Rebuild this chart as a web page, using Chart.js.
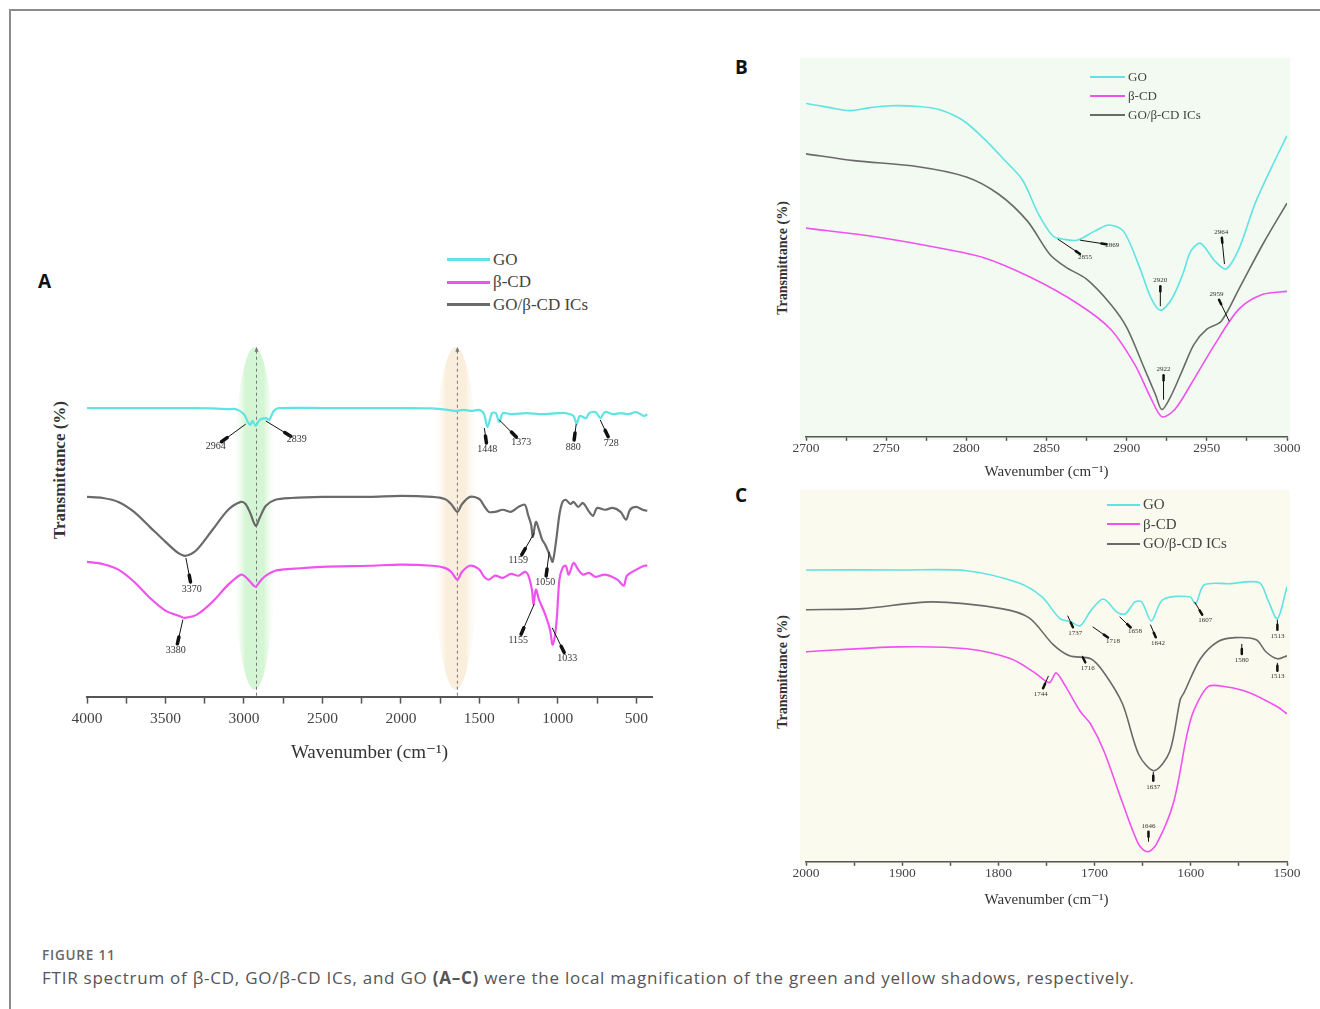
<!DOCTYPE html>
<html lang="en">
<head>
<meta charset="UTF-8" />
<title>FTIR spectrum - Figure 11</title>
<script src="https://cdn.jsdelivr.net/npm/chart.js"></script>
<style>
  body { margin: 0; width: 1320px; height: 1009px; position: relative; overflow: hidden; background: #fff; }
  .frame { position: absolute; left: 9px; top: 9px; width: 1330px; height: 1020px; border-top: 2px solid #8c8c8c; border-left: 2px solid #8c8c8c; }
  canvas { position: absolute; }
  .tag { position: absolute; font: bold 19px "Open Sans", sans-serif; color: #111; }
  .ytitle { position: absolute; transform: translate(-50%, -50%) rotate(-90deg); white-space: nowrap; font-family: "Liberation Serif", serif; font-weight: bold; color: #333; }
  .leg { position: absolute; display: flex; align-items: center; font-family: "Liberation Serif", serif; color: #444; white-space: nowrap; }
  .leg i { display: inline-block; margin-right: 3px; }
  .fig { position: absolute; left: 42px; top: 946px; font: 600 13.5px "Open Sans", sans-serif; color: #666; letter-spacing: 0.8px; }
  .cap { position: absolute; left: 42px; top: 966px; font: 17px "Open Sans", sans-serif; color: #555; white-space: nowrap; letter-spacing: 0.75px; }
</style>
</head>
<body>
<div class="frame"></div>

<div class="tag" style="left:38px;top:268px">A</div>
<div class="tag" style="left:735px;top:54px">B</div>
<div class="tag" style="left:735px;top:482px">C</div>

<div class="ytitle" style="left:60px;top:470px;font-size:17px">Transmittance (%)</div>
<div class="ytitle" style="left:783px;top:258px;font-size:14px">Transmittance (%)</div>
<div class="ytitle" style="left:783px;top:672px;font-size:14px">Transmittance (%)</div>

<canvas id="chartA" width="640" height="460" style="left:40px;top:330px"></canvas>
<canvas id="chartB" width="560" height="460" style="left:760px;top:40px"></canvas>
<canvas id="chartC" width="560" height="460" style="left:760px;top:470px"></canvas>

<div id="legends"></div>

<div class="fig">FIGURE 11</div>
<div class="cap">FTIR spectrum of β-CD, GO/β-CD ICs, and GO <b>(A–C)</b> were the local magnification of the green and yellow shadows, respectively.</div>

<script>
// series names and colours
const seriesNames = ["GO", "β-CD", "GO/β-CD ICs"];
const seriesColors = ["#5fe3e3", "#f052f0", "#6a6a6a"];

// ---- panel A: full spectrum, 4000-400 cm-1 ----
const goA_wn = [4000,3500,3200,3100,3050,3000,2975,2960,2945,2925,2900,2860,2839,2810,2780,2500,2000,1800,1700,1650,1600,1550,1500,1470,1448,1420,1395,1373,1350,1300,1200,1100,1000,950,900,880,860,820,800,760,728,700,650,600,550,500,450,430];
const goA_t = [80.9,80.9,80.8,80.6,80.6,79.2,77.0,76.2,77.3,75.9,77.6,78.1,77.6,80.1,80.9,80.9,80.9,80.8,80.4,80.1,80.4,80.1,80.4,79.2,75.6,79.5,79.5,77.0,79.5,79.2,79.5,79.2,79.5,79.5,78.7,76.4,78.7,78.1,79.5,79.8,78.1,79.8,79.2,79.5,79.2,79.8,78.7,79.2];

const cdA_wn = [4000,3900,3800,3700,3600,3500,3400,3380,3300,3200,3100,3020,2990,2960,2925,2900,2860,2800,2700,2500,2200,2000,1800,1720,1680,1640,1610,1560,1500,1470,1440,1400,1350,1300,1250,1210,1190,1165,1155,1140,1120,1080,1050,1033,1010,990,970,950,930,900,870,840,800,760,700,620,580,560,500,450,430];
const cdA_t = [37.8,37.2,35.6,32.2,27.7,24.1,22.4,22.1,23.0,26.6,31.4,34.2,33.6,32.2,30.8,32.2,33.9,35.3,35.8,36.4,36.7,37.0,36.7,36.1,35.0,32.8,35.0,36.7,35.6,33.6,32.8,33.9,33.3,34.4,33.9,35.0,34.2,30.0,25.8,30.0,27.2,23.0,18.8,14.6,20.2,32.8,36.1,36.7,34.2,37.5,35.6,34.2,34.7,33.6,34.2,32.8,31.1,33.9,35.6,36.7,36.7];

const icA_wn = [4000,3900,3800,3700,3600,3500,3420,3370,3300,3200,3100,3020,2990,2960,2925,2900,2860,2800,2700,2500,2200,2000,1800,1720,1680,1640,1610,1560,1500,1470,1440,1400,1350,1300,1250,1210,1190,1170,1159,1140,1120,1100,1080,1050,1033,1010,990,970,950,920,900,870,840,800,775,750,700,650,600,565,540,500,460,430];
const icA_t = [56.0,55.7,54.6,51.8,47.6,43.4,40.3,39.5,41.2,46.8,52.4,54.6,54.0,51.5,47.9,50.1,53.5,55.2,55.7,56.0,56.0,56.3,56.0,55.4,54.0,51.8,54.0,56.0,55.4,53.5,51.8,51.8,52.4,51.8,53.2,53.8,51.0,48.2,44.8,49.0,46.8,44.0,42.6,39.5,37.8,44.0,51.0,54.6,55.2,54.0,54.6,53.2,54.3,51.8,50.7,52.9,52.4,52.9,51.8,49.6,52.4,53.2,52.4,52.1];

const ticksA = [4000,3750,3500,3250,3000,2750,2500,2250,2000,1750,1500,1250,1000,750,500];
const tickLabelsA = [4000,3500,3000,2500,2000,1500,1000,500];
// shaded regions (cm-1) and their marker lines
const shadeA = [[3075, 2790, "rgba(160,235,160,0.45)"], [1800, 1500, "rgba(245,222,185,0.5)"]];
const markA = [2920, 1640];
// [label, tip wn, tip T, label wn, label T]
const peaksA = [
  ["2964", 2989, 76.4, 3179, 70.3], ["2839", 2861, 77.3, 2664, 72.0],
  ["1448", 1468, 75.3, 1449, 69.2], ["1373", 1373, 77.6, 1233, 71.4],
  ["880", 883, 76.4, 902, 70.0], ["728", 730, 77.6, 660, 71.1],
  ["3370", 3370, 38.9, 3332, 30.2], ["3380", 3389, 21.6, 3434, 12.9],
  ["1159", 1150, 45.9, 1252, 38.1], ["1050", 1055, 40.6, 1080, 31.9],
  ["1155", 1150, 26.0, 1252, 15.7], ["1033", 1036, 19.3, 940, 10.6]
];

// ---- panel B: 2700-3000 cm-1 ----
const goB_wn = [2700,2715,2727,2740,2753,2770,2783,2798,2811,2823,2835,2845,2854,2860,2869,2880,2889,2898,2908,2915,2921,2928,2935,2940,2946,2955,2962,2970,2980,2990,3000];
const goB_t = [88.0,86.9,86.1,86.9,87.4,87.2,86.4,83.5,78.7,73.4,67.8,58.8,53.0,52.2,51.9,54.3,55.9,54.3,44.8,36.8,33.4,36.3,42.9,49.0,51.1,46.4,44.3,49.6,61.5,70.8,79.5];
const cdB_wn = [2700,2740,2780,2810,2840,2870,2890,2905,2915,2922,2930,2940,2955,2970,2985,3000];
const cdB_t = [55.1,53.0,50.1,47.4,42.1,35.0,28.4,19.1,10.3,5.3,7.2,13.8,24.4,33.7,37.6,38.4];
const icB_wn = [2700,2730,2770,2800,2820,2838,2852,2862,2875,2890,2900,2910,2918,2922,2928,2935,2942,2950,2959,2970,2985,3000];
const icB_t = [74.7,72.9,71.3,68.6,64.1,57.0,48.2,44.8,41.6,35.0,28.9,19.1,11.1,7.2,11.1,17.8,24.4,28.4,30.5,39.0,50.9,61.7];

const ticksB = [2700,2725,2750,2775,2800,2825,2850,2875,2900,2925,2950,2975,3000];
const tickLabelsB = [2700,2750,2800,2850,2900,2950,3000];
const peaksB = [
  ["2855", 2857, 52.2, 2874, 47.4], ["2869", 2871, 51.9, 2891, 50.6],
  ["2920", 2921, 34.5, 2921, 41.3], ["2922", 2923, 9.8, 2923, 17.8],
  ["2964", 2961, 45.6, 2959, 54.1], ["2959", 2964, 30.5, 2956, 37.6]
];

// ---- panel C: 2000-1500 cm-1 ----
const goC_wn = [2000,1900,1833,1780,1755,1736,1725,1715,1704,1691,1676,1668,1658,1651,1641,1629,1601,1595,1586,1560,1529,1520,1510,1500];
const goC_t = [78.5,78.5,78.3,75.1,71.3,65.4,64.6,63.5,67.5,70.7,67.0,66.7,69.9,69.9,64.8,70.5,71.3,69.4,74.5,74.8,75.1,70.5,65.4,74.0];
const cdC_wn = [2000,1904,1833,1787,1762,1747,1740,1730,1715,1704,1690,1671,1654,1645,1636,1618,1604,1597,1582,1564,1539,1510,1500];
const cdC_t = [56.5,57.8,57.3,54.6,50.8,48.2,50.8,47.1,40.5,37.0,29.6,15.9,4.6,2.7,4.6,15.9,34.2,40.6,47.1,47.1,45.5,41.7,39.8];
const icC_wn = [2000,1941,1869,1797,1768,1743,1726,1704,1690,1671,1654,1638,1622,1611,1607,1590,1572,1554,1532,1522,1510,1500];
const icC_t = [67.8,68.1,69.9,68.1,65.6,58.4,55.4,54.6,50.8,42.5,28.8,24.5,29.6,43.6,45.5,54.6,59.2,60.3,59.7,56.5,54.6,55.4];

const ticksC = [2000,1950,1900,1850,1800,1750,1700,1650,1600,1550,1500];
const tickLabelsC = [2000,1900,1800,1700,1600,1500];
const peaksC = [
  ["1737", 1728, 66.2, 1720, 61.6], ["1718", 1702, 63.2, 1681, 59.4],
  ["1658", 1674, 65.9, 1658, 61.9], ["1642", 1642, 63.8, 1634, 58.9],
  ["1607", 1596, 69.9, 1585, 65.1], ["1513", 1510, 65.1, 1510, 60.8],
  ["1744", 1748, 50.0, 1756, 45.2], ["1716", 1713, 55.4, 1707, 52.2],
  ["1637", 1639, 24.2, 1639, 20.2], ["1646", 1644, 5.4, 1644, 9.7],
  ["1580", 1547, 58.6, 1547, 54.3], ["1513", 1510, 53.5, 1510, 49.8]
];

const serif = '"Liberation Serif", "DejaVu Serif", serif';
const pts = (xs, ys) => xs.map((x, i) => ({ x: x, y: ys[i] }));

// background, shaded bands, dashed markers, peak arrows + labels
const decor = {
  id: "decor",
  beforeDraw(chart, args, o) {
    if (!o.bg) return;
    const a = chart.chartArea, ctx = chart.ctx;
    ctx.save();
    ctx.fillStyle = o.bg;
    ctx.fillRect(a.left - 6, a.top, a.width + 9, a.height + 3);
    ctx.restore();
  },
  beforeDatasetsDraw(chart, args, o) {
    const { ctx, scales: { x, y } } = chart;
    ctx.save();
    (o.shade || []).forEach(([w1, w2, c]) => {
      const x1 = x.getPixelForValue(w1), x2 = x.getPixelForValue(w2);
      const cx = (x1 + x2) / 2, rx = Math.abs(x2 - x1) / 2;
      const yt = y.getPixelForValue(98), yb = y.getPixelForValue(2);
      const g = ctx.createLinearGradient(cx - rx, 0, cx + rx, 0);
      g.addColorStop(0, "rgba(255,255,255,0)");
      g.addColorStop(0.3, c);
      g.addColorStop(0.7, c);
      g.addColorStop(1, "rgba(255,255,255,0)");
      ctx.fillStyle = g;
      ctx.beginPath();
      ctx.ellipse(cx, (yt + yb) / 2, rx, (yb - yt) / 2, 0, 0, Math.PI * 2);
      ctx.fill();
    });
    (o.marks || []).forEach(w => {
      const px = x.getPixelForValue(w);
      const yt = y.getPixelForValue(97), yb = y.getPixelForValue(0);
      ctx.strokeStyle = "#777";
      ctx.lineWidth = 1;
      ctx.setLineDash([3, 3]);
      ctx.beginPath(); ctx.moveTo(px, yt); ctx.lineTo(px, yb); ctx.stroke();
      ctx.setLineDash([]);
      ctx.fillStyle = "#777";
      ctx.beginPath(); ctx.moveTo(px, yt - 4); ctx.lineTo(px - 2, yt + 1); ctx.lineTo(px + 2, yt + 1); ctx.fill();
    });
    ctx.restore();
  },
  afterDatasetsDraw(chart, args, o) {
    const { ctx, scales: { x, y } } = chart;
    ctx.save();
    ctx.font = o.font;
    ctx.textAlign = "center";
    ctx.textBaseline = "middle";
    (o.peaks || []).forEach(([t, tx, ty, lx, ly]) => {
      const x1 = x.getPixelForValue(tx), y1 = y.getPixelForValue(ty);
      const x0 = x.getPixelForValue(lx), y0 = y.getPixelForValue(ly);
      const d = Math.hypot(x1 - x0, y1 - y0) || 1;
      const ux = (x1 - x0) / d, uy = (y1 - y0) / d;
      const sx = x0 + ux * o.gap, sy = y0 + uy * o.gap;
      ctx.strokeStyle = "#111";
      ctx.lineWidth = 1;
      ctx.beginPath(); ctx.moveTo(sx, sy); ctx.lineTo(x1, y1); ctx.stroke();
      ctx.lineWidth = o.blob;
      ctx.lineCap = "round";
      ctx.beginPath(); ctx.moveTo(sx, sy); ctx.lineTo(sx + ux * o.blobLen, sy + uy * o.blobLen); ctx.stroke();
      ctx.lineCap = "butt";
      ctx.fillStyle = "#333";
      ctx.fillText(t, x0, y0);
    });
    ctx.restore();
  }
};

function spectrum(id, s) {
  return new Chart(document.getElementById(id), {
    type: "line",
    data: {
      datasets: s.series.map((d, i) => ({
        label: seriesNames[i],
        data: pts(d[0], d[1]),
        borderColor: seriesColors[i],
        borderWidth: s.lw,
        pointRadius: 0,
        tension: 0.3,
        fill: false
      }))
    },
    options: {
      responsive: false,
      animation: false,
      layout: { padding: s.pad },
      plugins: {
        legend: { display: false },
        tooltip: { enabled: false },
        decor: s.decor
      },
      scales: {
        x: {
          type: "linear",
          min: s.min, max: s.max, reverse: s.reverse,
          afterBuildTicks: sc => { sc.ticks = s.ticks.map(v => ({ value: v })); },
          ticks: {
            autoSkip: false, maxRotation: 0, padding: s.tickPad, color: "#444",
            font: { family: serif, size: s.tickFont },
            callback: v => (s.labels.includes(v) ? String(v) : "")
          },
          grid: { drawOnChartArea: false, drawTicks: true, tickLength: s.tickLen, tickColor: "#555", tickWidth: 1.5 },
          border: { display: true, color: "#555", width: s.axisW },
          title: {
            display: true, text: "Wavenumber (cm\u207B\u00B9)", color: "#333",
            font: { family: serif, size: s.titleFont },
            padding: { top: s.titlePad, bottom: 0 }
          }
        },
        y: { display: false, min: 0, max: 100 }
      }
    },
    plugins: [decor]
  });
}

spectrum("chartA", {
  series: [[goA_wn, goA_t], [cdA_wn, cdA_t], [icA_wn, icA_t]],
  min: 400, max: 4000, reverse: true, ticks: ticksA, labels: tickLabelsA,
  lw: 2.2, pad: { left: 47, right: 28, top: 10, bottom: 26 },
  tickPad: 6, tickLen: 7, tickFont: 15.5, titleFont: 19, titlePad: 7, axisW: 2,
  decor: { shade: shadeA, marks: markA, peaks: peaksA, font: "10px " + serif, gap: 7, blob: 3.5, blobLen: 7 }
});

spectrum("chartB", {
  series: [[goB_wn, goB_t], [cdB_wn, cdB_t], [icB_wn, icB_t]],
  min: 2700, max: 3000, reverse: false, ticks: ticksB, labels: tickLabelsB,
  lw: 1.6, pad: { left: 46, right: 33, top: 18, bottom: 19 },
  tickPad: 0, tickLen: 4, tickFont: 13.5, titleFont: 15, titlePad: 6, axisW: 1.5,
  decor: { bg: "#f2faf1", peaks: peaksB, font: "7px " + serif, gap: 6, blob: 2.5, blobLen: 5 }
});

spectrum("chartC", {
  series: [[goC_wn, goC_t], [cdC_wn, cdC_t], [icC_wn, icC_t]],
  min: 1500, max: 2000, reverse: true, ticks: ticksC, labels: tickLabelsC,
  lw: 1.6, pad: { left: 46, right: 33, top: 20, bottom: 21 },
  tickPad: 0, tickLen: 4, tickFont: 13.5, titleFont: 15, titlePad: 9, axisW: 1.5,
  decor: { bg: "#fbfaee", peaks: peaksC, font: "7px " + serif, gap: 6, blob: 2.5, blobLen: 5 }
});

// legends: [left of line, top of first row, line width, row step, font size, line thickness]
const legendSpots = [
  [447, 260, 43, 22.5, 17, 3],
  [1090, 77, 35, 19, 13, 2],
  [1107, 505, 33, 19.5, 15, 2]
];
const legHost = document.getElementById("legends");
legendSpots.forEach(([lx, ly, w, step, fs, th]) => {
  seriesNames.forEach((n, i) => {
    const row = document.createElement("div");
    row.className = "leg";
    row.style.left = lx + "px";
    row.style.top = (ly + i * step - fs * 0.6) + "px";
    row.style.fontSize = fs + "px";
    row.innerHTML = '<i style="width:' + w + 'px;height:' + th + 'px;background:' + seriesColors[i] + '"></i>' + n;
    legHost.appendChild(row);
  });
});
</script>
</body>
</html>
